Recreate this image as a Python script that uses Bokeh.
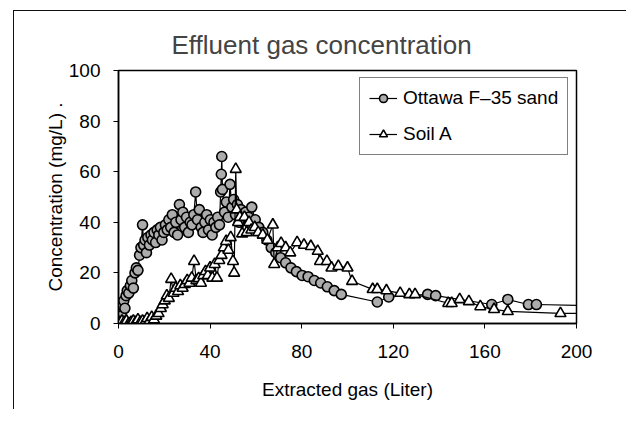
from bokeh.plotting import figure
from bokeh.models import Range1d, FixedTicker, Legend, LegendItem
from bokeh.embed import file_html
from bokeh.resources import INLINE

# ---- data ----
ottawa = [(0.3, 2), (0.8, 5), (1.3, 3), (1.8, 7), (2.3, 9), (2.8, 6), (3.3, 11), (3.8, 13),
          (4.5, 12), (5.2, 15), (5.8, 17), (6.5, 14), (7.2, 20), (7.8, 22), (8.5, 21), (9.2, 27),
          (9.8, 30), (10.5, 39), (11.0, 31), (11.6, 33), (12.2, 28), (12.8, 34), (13.5, 31),
          (14.2, 35), (14.8, 33), (15.5, 36), (16.2, 32), (16.9, 37), (17.6, 35), (18.3, 38),
          (19.0, 33), (19.8, 36), (20.5, 39), (21.3, 37), (22.0, 41), (22.8, 38), (23.5, 43),
          (24.3, 36), (25.0, 40), (25.8, 35), (26.6, 47), (27.3, 41), (28.1, 44), (28.9, 38),
          (29.7, 42), (30.5, 36), (31.3, 40), (32.1, 39), (32.9, 43), (33.7, 52), (34.5, 41),
          (35.3, 45), (36.1, 38), (36.9, 36), (37.7, 40), (38.5, 43), (39.3, 37), (40.1, 41),
          (40.9, 35), (41.7, 40), (42.5, 38), (43.3, 42), (44.1, 39), (44.6, 52), (44.9, 59),
          (45.1, 66), (45.4, 53), (46.3, 44), (47.1, 48), (47.9, 42), (48.7, 55), (49.5, 46),
          (50.3, 49), (51.1, 43), (51.9, 47), (52.7, 40), (53.5, 45), (54.4, 43), (55.5, 44),
          (56.8, 42), (58.2, 46), (59.7, 41), (61.3, 38), (63.0, 36), (64.8, 33), (66.7, 30),
          (68.7, 28), (70.8, 26), (73.0, 24), (75.3, 22), (77.7, 20.5), (80.2, 19), (82.8, 18.5),
          (85.5, 17), (88.3, 16), (91.2, 14.5), (94.2, 13), (97.3, 11.5), (113.0, 8.5),
          (118.0, 10.5), (135.0, 11.5), (138.5, 11), (163.0, 7.5), (170.0, 9.5), (179.0, 7.5),
          (182.5, 7.5), (210.0, 7)]

soil_a = [(0.5, 0.5), (1.5, 1), (2.5, 0.5), (3.5, 1), (4.5, 0), (5.5, 0.5), (6.5, 1), (7.5, 0.5),
          (8.5, 1.5), (9.5, 0.5), (10.5, 1), (11.5, 0.5), (12.5, 2), (13.5, 1), (14.5, 2.5),
          (15.5, 1.5), (16.5, 3), (17.5, 4), (18.5, 6), (19.3, 7.5), (20.2, 9), (21.1, 11),
          (22.0, 10), (23.0, 17.5), (24.0, 12), (25.0, 14), (26.0, 12.7), (27.0, 15), (28.0, 14),
          (29.0, 15.5), (30.0, 17), (31.0, 16), (32.0, 18), (33.0, 24.6), (34.0, 17), (35.0, 17.8),
          (36.0, 16), (37.0, 19), (38.0, 20.6), (39.0, 19), (40.0, 22), (41.0, 18), (42.0, 23.4),
          (43.0, 18), (44.0, 25), (45.0, 27), (46.0, 30), (47.0, 32.5), (48.0, 29), (49.0, 34),
          (50.0, 24.6), (50.5, 20), (51.2, 61), (51.6, 45), (52.2, 40), (53.0, 42), (54.0, 35.5),
          (55.0, 42), (56.0, 36), (57.0, 40), (58.0, 37), (59.5, 38), (61.0, 36), (63.0, 35),
          (65.0, 33), (67.4, 39), (68.0, 23.4), (69.5, 30), (71.0, 31.7), (73.0, 30), (75.0, 28),
          (78.0, 32), (81.0, 31), (84.0, 30.5), (87.0, 28.6), (88.0, 24.6), (91.0, 24.6),
          (93.0, 22), (96.0, 22.6), (100.0, 22), (102.0, 16.7), (111.0, 13.5), (113.0, 13.5),
          (117.0, 13), (123.0, 12), (127.0, 11.5), (129.5, 11.5), (144.0, 8), (145.5, 8),
          (149.0, 9.5), (153.0, 8.7), (158.0, 6.7), (164.0, 5.6), (170.0, 4.8), (193.0, 4),
          (210.0, 4)]

x_ticks = [0, 40, 80, 120, 160, 200]
y_ticks = [0, 20, 40, 60, 80, 100]
series_names = ["Ottawa F\u201335 sand", "Soil A"]

FONT = "Liberation Sans"

p = figure(width=626, height=409, output_backend="svg", toolbar_location=None,
           x_range=Range1d(0, 200), y_range=Range1d(0, 100),
           min_border_left=118, min_border_right=50, min_border_top=70, min_border_bottom=86)

# outer chart-area border (left and top edges, as in the scan), drawn behind a transparent canvas
p.border_fill_alpha = 0
p.styles = {
    "background-image": "linear-gradient(#111,#111), linear-gradient(#111,#111)",
    "background-size": "1.3px 420px, 640px 1.3px",
    "background-position": "13px 10px, 13px 10px",
    "background-repeat": "no-repeat",
}

p.title.text = "Effluent gas concentration"
p.title.text_font = FONT
p.title.text_font_size = "26px"
p.title.text_font_style = "normal"
p.title.align = "left"
p.title.offset = 53
p.title.standoff = 21

p.xgrid.visible = False
p.ygrid.visible = False
p.outline_line_color = "black"
p.outline_line_width = 1.5
p.outline_line_alpha = 1.0

for ax in (p.xaxis[0], p.yaxis[0]):
    ax.axis_line_color = "black"
    ax.axis_line_width = 1.5
    ax.major_tick_out = 5
    ax.major_tick_in = 0
    ax.minor_tick_line_color = None
    ax.major_label_text_font = FONT
    ax.major_label_text_font_size = "19px"
    ax.major_label_text_color = "black"
    ax.axis_label_text_font = FONT
    ax.axis_label_text_font_size = "19px"
    ax.axis_label_text_font_style = "normal"
    ax.axis_label_text_color = "black"

p.xaxis.ticker = FixedTicker(ticks=x_ticks)
p.yaxis.ticker = FixedTicker(ticks=y_ticks)
p.xaxis.axis_label = "Extracted gas (Liter)"
p.yaxis.axis_label = "Concentration (mg/L) ."
p.xaxis.major_label_standoff = 16
p.yaxis.major_label_standoff = 13
p.xaxis.axis_label_standoff = 18
p.yaxis.axis_label_standoff = 0

ox = [a for a, b in ottawa]
oy = [b for a, b in ottawa]
sx = [a for a, b in soil_a]
sy = [b for a, b in soil_a]

l1 = p.line(ox, oy, line_color="black", line_width=1.2)
m1 = p.scatter(ox, oy, marker="circle", size=10, fill_color="#acacac",
               line_color="black", line_width=1.6)
l2 = p.line(sx, sy, line_color="black", line_width=1.2)
m2 = p.scatter(sx, sy, marker="triangle", size=11, fill_color="white",
               line_color="black", line_width=1.6)

legend = Legend(items=[LegendItem(label=series_names[0], renderers=[l1, m1]),
                       LegendItem(label=series_names[1], renderers=[l2, m2])],
                location=(241, 168))
legend.label_text_font = FONT
legend.label_text_font_size = "19px"
legend.label_text_color = "black"
legend.glyph_width = 28
legend.glyph_height = 20
legend.label_height = 20
legend.label_standoff = 6
legend.spacing = 14
legend.padding = 9
legend.margin = 0
legend.border_line_color = "black"
legend.border_line_width = 1.3
legend.background_fill_color = "white"
legend.background_fill_alpha = 1
p.add_layout(legend)

open("out.html", "w").write(file_html(p, INLINE))
